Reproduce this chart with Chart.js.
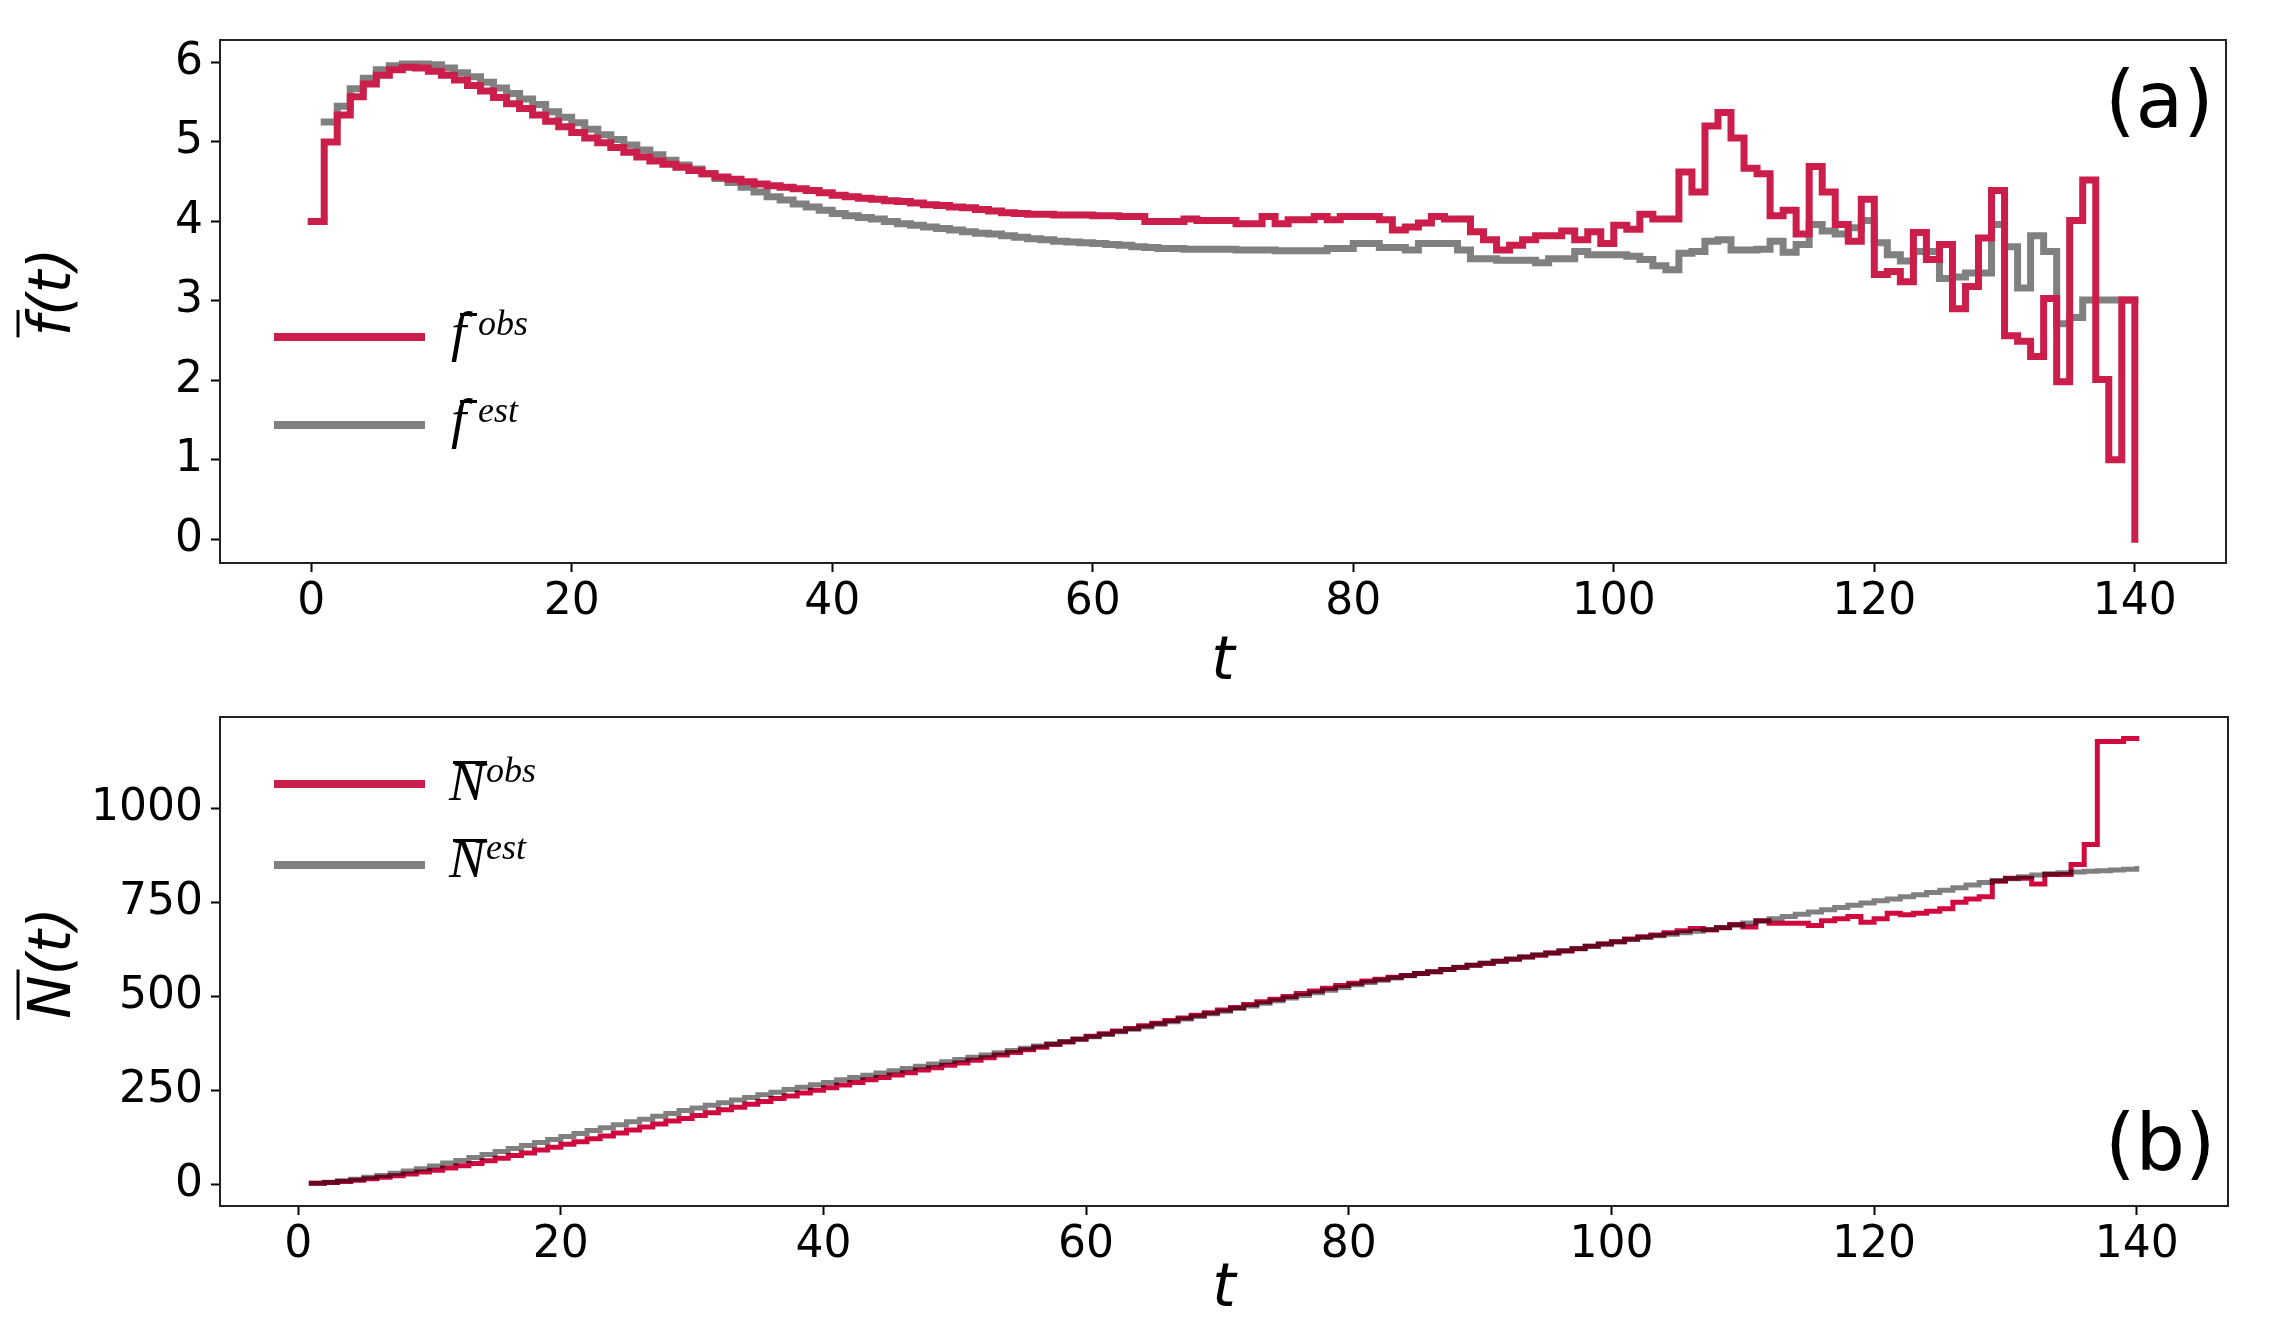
<!DOCTYPE html>
<html>
<head>
<meta charset="utf-8">
<script src="https://cdn.jsdelivr.net/npm/chart.js@4.4.1/dist/chart.umd.min.js"></script>
<style>
  html, body { margin: 0; padding: 0; background: #fff; }
  #wrap { position: relative; width: 2280px; height: 1324px; }
  canvas { position: absolute; left: 0; }
  #topChart { top: 0; }
  #bottomChart { top: 690px; }
</style>
</head>
<body>
<div id="wrap">
  <canvas id="topChart" width="2280" height="690"></canvas>
  <canvas id="bottomChart" width="2280" height="634"></canvas>
</div>
<script>
// f-bar observed, t = 0..140
const fObsStart = 0;
const fObs = [
  4.00, 5.00, 5.34, 5.57, 5.73, 5.84, 5.91, 5.94, 5.93, 5.89,
  5.84, 5.78, 5.71, 5.64, 5.56, 5.48, 5.42, 5.34, 5.26, 5.19,
  5.12, 5.05, 4.99, 4.93, 4.87, 4.81, 4.76, 4.72, 4.68, 4.64,
  4.60, 4.56, 4.53, 4.50, 4.47, 4.45, 4.43, 4.41, 4.39, 4.36,
  4.33, 4.31, 4.29, 4.28, 4.26, 4.25, 4.23, 4.21, 4.20, 4.18,
  4.17, 4.15, 4.13, 4.11, 4.10, 4.09, 4.09, 4.08, 4.08, 4.08,
  4.07, 4.07, 4.06, 4.06, 4.00, 4.00, 4.00, 4.03, 4.01, 4.01,
  4.01, 3.97, 3.97, 4.06, 3.97, 4.02, 4.02, 4.06, 4.02, 4.06,
  4.06, 4.06, 4.02, 3.89, 3.93, 3.98, 4.06, 4.03, 4.03, 3.87,
  3.77, 3.64, 3.70, 3.77, 3.82, 3.82, 3.88, 3.77, 3.87, 3.72,
  3.95, 3.90, 4.09, 4.03, 4.03, 4.62, 4.37, 5.20, 5.37, 5.05,
  4.67, 4.60, 4.07, 4.14, 3.84, 4.69, 4.37, 3.96, 3.75, 4.28,
  3.33, 3.37, 3.24, 3.86, 3.52, 3.71, 2.90, 3.18, 3.79, 4.39,
  2.56, 2.49, 2.30, 3.03, 1.98, 4.01, 4.52, 2.01, 1.00, 3.01,
  0.00
];
// f-bar estimated, t = 1..140
const fEstStart = 1;
const fEst = [
  5.25, 5.45, 5.67, 5.80, 5.91, 5.96, 5.98, 5.98, 5.97, 5.93,
  5.87, 5.82, 5.75, 5.68, 5.61, 5.54, 5.47, 5.38, 5.31, 5.24,
  5.16, 5.09, 5.03, 4.96, 4.90, 4.84, 4.77, 4.71, 4.66, 4.60,
  4.54, 4.49, 4.43, 4.37, 4.31, 4.27, 4.22, 4.18, 4.14, 4.10,
  4.07, 4.05, 4.03, 4.00, 3.97, 3.95, 3.93, 3.91, 3.89, 3.87,
  3.85, 3.84, 3.82, 3.80, 3.78, 3.77, 3.75, 3.74, 3.73, 3.72,
  3.71, 3.70, 3.68, 3.67, 3.66, 3.66, 3.65, 3.65, 3.65, 3.65,
  3.64, 3.64, 3.64, 3.63, 3.63, 3.63, 3.63, 3.66, 3.66, 3.72,
  3.72, 3.67, 3.67, 3.64, 3.72, 3.72, 3.72, 3.64, 3.53, 3.53,
  3.51, 3.51, 3.51, 3.48, 3.53, 3.53, 3.62, 3.58, 3.58, 3.58,
  3.56, 3.52, 3.44, 3.39, 3.60, 3.62, 3.75, 3.77, 3.64, 3.64,
  3.65, 3.75, 3.61, 3.71, 3.96, 3.88, 3.84, 3.92, 4.01, 3.73,
  3.58, 3.50, 3.62, 3.62, 3.28, 3.30, 3.35, 3.35, 3.96, 3.68,
  3.16, 3.82, 3.62, 2.71, 2.79, 3.01, 3.01, 3.01, 3.01, 3.01
];
// N-bar observed / estimated, t = 1..140
const nStart = 1;
const nObs = [
  2, 4, 7, 10, 14, 18, 22, 27, 32, 37,
  43, 49, 55, 62, 69, 76, 83, 91, 98, 106,
  113, 121, 128, 136, 144, 152, 160, 168, 175, 183,
  190, 198, 205, 213, 220, 228, 235, 243, 250, 257,
  264, 271, 278, 284, 291, 297, 304, 310, 317, 323,
  330, 337, 344, 351, 358, 365, 372, 379, 386, 394,
  401, 408, 415, 422, 429, 436, 443, 450, 457, 464,
  471, 479, 486, 493, 500, 508, 515, 522, 529, 535,
  541, 546, 551, 556, 561, 566, 572, 577, 583, 588,
  594, 599, 605, 610, 616, 621, 627, 634, 640, 646,
  653, 659, 664, 670, 675, 681, 678, 683, 692, 685,
  702, 695, 695, 695, 689, 702, 707, 713, 698, 707,
  722, 718, 722, 727, 734, 751, 760, 766, 807, 815,
  815, 800, 825, 825, 852, 905, 1180, 1180, 1188, 1188
];
const nEst = [
  2, 5, 9, 13, 18, 23, 29, 35, 41, 48,
  56, 63, 71, 79, 87, 95, 103, 111, 119, 127,
  135, 143, 150, 158, 166, 173, 181, 188, 196, 203,
  210, 217, 224, 231, 238, 245, 252, 258, 265, 271,
  278, 284, 290, 296, 302, 308, 314, 320, 326, 332,
  338, 344, 350, 356, 362, 368, 374, 380, 387, 393,
  399, 406, 413, 419, 426, 433, 440, 447, 454, 461,
  468, 475, 482, 489, 496, 503, 510, 517, 524, 531,
  537, 543, 549, 555, 561, 566, 572, 578, 583, 589,
  594, 600, 605, 611, 616, 622, 628, 634, 640, 646,
  652, 657, 662, 666, 670, 674, 678, 684, 690, 696,
  701, 707, 713, 719, 725, 731, 737, 743, 749, 755,
  760, 766, 771, 777, 783, 790, 797, 804, 809, 814,
  819, 824, 827, 830, 832, 834, 835, 837, 839, 841
];
const tTicks = [0, 20, 40, 60, 80, 100, 120, 140];
const fTicks = [0, 1, 2, 3, 4, 5, 6];
const nTicks = [0, 250, 500, 750, 1000];

const RED = '#cc1e4a';
const RED_B = '#d00a3f';
const GRAY = '#808080';
const TICK_FONT = { family: 'DejaVu Sans', size: 44 };

function points(values, start) {
  return values.map((v, i) => ({ x: start + i, y: v }));
}

const framePlugin = {
  id: 'frame',
  afterDraw(chart) {
    const { ctx, chartArea: a } = chart;
    ctx.save();
    ctx.strokeStyle = '#222';
    ctx.lineWidth = 2;
    ctx.strokeRect(a.left, a.top, a.right - a.left, a.bottom - a.top);
    ctx.restore();
  }
};

// y title with an overbar, legend with superscripts, panel tag
const decorPlugin = {
  id: 'decor',
  afterDraw(chart, args, opts) {
    const ctx = chart.ctx;
    ctx.save();
    ctx.fillStyle = '#000';

    const yt = opts.yTitle;
    if (yt) {
      ctx.save();
      ctx.translate(yt.cx, yt.cy);
      ctx.rotate(-Math.PI / 2);
      ctx.font = `italic ${yt.size}px "DejaVu Sans"`;
      ctx.textAlign = 'left';
      ctx.textBaseline = 'alphabetic';
      const wBase = ctx.measureText(yt.base).width;
      const wAll = ctx.measureText(yt.base + yt.rest).width;
      const x0 = -wAll / 2;
      const base = yt.size * 0.37;
      ctx.fillText(yt.base + yt.rest, x0, base);
      ctx.fillRect(x0 - yt.size * 0.02, base - yt.size * 0.93, wBase + yt.size * 0.12, 3);
      ctx.restore();
    }

    (opts.legend || []).forEach(e => {
      ctx.save();
      ctx.strokeStyle = e.color;
      ctx.lineWidth = 8;
      ctx.lineCap = 'butt';
      ctx.beginPath();
      ctx.moveTo(274, e.lineY);
      ctx.lineTo(425, e.lineY);
      ctx.stroke();
      ctx.fillStyle = '#000';
      ctx.textAlign = 'left';
      ctx.textBaseline = 'alphabetic';
      ctx.font = `italic ${e.symSize}px "Liberation Serif"`;
      ctx.fillText(e.sym, e.symX, e.symBase);
      ctx.fillRect(e.barX0, e.barY, e.barX1 - e.barX0, 3);
      ctx.font = `italic ${e.supSize}px "Liberation Serif"`;
      ctx.fillText(e.sup, e.supX, e.supBase);
      ctx.restore();
    });

    if (opts.tag) {
      ctx.font = '78px "DejaVu Sans"';
      ctx.textAlign = 'left';
      ctx.textBaseline = 'alphabetic';
      ctx.fillText(opts.tag.text, opts.tag.x, opts.tag.y);
    }
    ctx.restore();
  }
};

const multiplyPlugin = {
  id: 'multiply',
  beforeDatasetsDraw(chart) {
    chart.ctx.save();
    chart.ctx.globalCompositeOperation = 'multiply';
  },
  afterDatasetsDraw(chart) {
    chart.ctx.restore();
  }
};

function xScale(min, max, axisHeight, titlePadBottom) {
  return {
    type: 'linear', min: min, max: max,
    afterBuildTicks: s => { s.ticks = tTicks.map(v => ({ value: v })); },
    afterFit: s => { s.height = axisHeight; s.paddingLeft = 0; s.paddingRight = 0; },
    ticks: { font: TICK_FONT, color: '#000', padding: 4, maxRotation: 0, autoSkip: false,
             callback: v => String(v) },
    grid: { drawOnChartArea: false, drawTicks: true, tickLength: 9, tickWidth: 2, tickColor: '#000' },
    border: { display: false },
    title: {
      display: true, text: 't', color: '#000',
      font: { family: 'DejaVu Sans', style: 'italic', size: 60, lineHeight: 0.9 },
      padding: { top: 0, bottom: titlePadBottom }
    }
  };
}

function yScale(min, max, ticks) {
  return {
    type: 'linear', min: min, max: max,
    afterBuildTicks: s => { s.ticks = ticks.map(v => ({ value: v })); },
    afterFit: s => { s.width = 220; s.paddingTop = 0; s.paddingBottom = 0; },
    ticks: { font: TICK_FONT, color: '#000', padding: 8, callback: v => String(v) },
    grid: { drawOnChartArea: false, drawTicks: true, tickLength: 9, tickWidth: 2, tickColor: '#000' },
    border: { display: false }
  };
}

function lineSet(values, start, color, width) {
  return {
    data: points(values, start),
    borderColor: color,
    borderWidth: width,
    stepped: 'before',
    pointRadius: 0,
    fill: false,
    borderCapStyle: 'square',
    borderJoinStyle: 'miter'
  };
}

new Chart(document.getElementById('topChart'), {
  type: 'line',
  data: {
    datasets: [
      lineSet(fObs, fObsStart, RED, 7),
      lineSet(fEst, fEstStart, GRAY, 7)
    ]
  },
  options: {
    responsive: false, animation: false, devicePixelRatio: 1,
    layout: { padding: { top: 40, right: 54, bottom: 0, left: 0 } },
    plugins: {
      legend: { display: false },
      tooltip: { enabled: false },
      decor: {
        yTitle: { base: 'f', rest: '(t)', cx: 49, cy: 292, size: 58 },
        legend: [
          { color: RED, lineY: 337, sym: 'f', symX: 451, symBase: 350, symSize: 55,
            barX0: 460, barX1: 477, barY: 313, sup: 'obs', supX: 478, supBase: 335, supSize: 36 },
          { color: GRAY, lineY: 425, sym: 'f', symX: 451, symBase: 437, symSize: 55,
            barX0: 460, barX1: 477, barY: 400, sup: 'est', supX: 478, supBase: 422, supSize: 36 }
        ],
        tag: { text: '(a)', x: 2105, y: 127 }
      }
    },
    scales: {
      x: xScale(-7, 147, 127, 0),
      y: yScale(-0.3, 6.283, fTicks)
    }
  },
  plugins: [framePlugin, decorPlugin]
});

new Chart(document.getElementById('bottomChart'), {
  type: 'line',
  data: {
    datasets: [
      lineSet(nObs, nStart, RED_B, 5),
      lineSet(nEst, nStart, GRAY, 5)
    ]
  },
  options: {
    responsive: false, animation: false, devicePixelRatio: 1,
    layout: { padding: { top: 27, right: 52, bottom: 0, left: 0 } },
    plugins: {
      legend: { display: false },
      tooltip: { enabled: false },
      decor: {
        yTitle: { base: 'N', rest: '(t)', cx: 49, cy: 273, size: 58 },
        legend: [
          { color: RED, lineY: 94, sym: 'N', symX: 449, symBase: 110, symSize: 54,
            barX0: 453, barX1: 487, barY: 71, sup: 'obs', supX: 486, supBase: 92, supSize: 36 },
          { color: GRAY, lineY: 175, sym: 'N', symX: 449, symBase: 187, symSize: 54,
            barX0: 453, barX1: 487, barY: 149, sup: 'est', supX: 486, supBase: 169, supSize: 36 }
        ],
        tag: { text: '(b)', x: 2105, y: 480 }
      }
    },
    scales: {
      x: xScale(-5.95, 146.95, 118, 7),
      y: yScale(-58.4, 1245, nTicks)
    }
  },
  plugins: [multiplyPlugin, framePlugin, decorPlugin]
});
</script>
</body>
</html>
